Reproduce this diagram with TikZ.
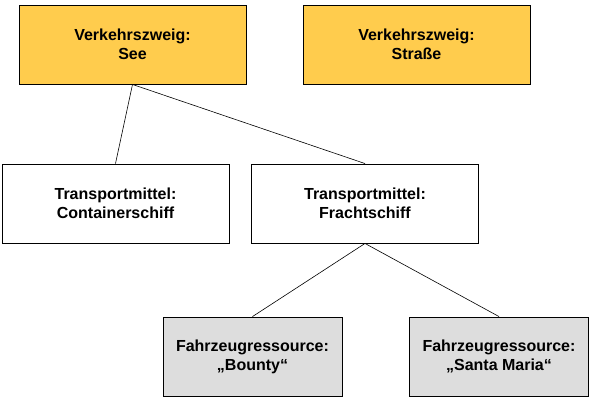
\documentclass[tikz,border=0pt]{standalone}
\usepackage{fontspec}
\setmainfont{Liberation Sans}

\tikzset{
  box/.style={draw, line width=0.9pt, minimum width=227pt, minimum height=79pt,
    align=center, inner sep=0pt, font=\fontsize{16}{19}\selectfont\bfseries},
  zweig/.style={box, fill=zweigfill},
  ressource/.style={box, fill=ressfill, minimum width=179pt}
}
\definecolor{zweigfill}{HTML}{FFCC4D}
\definecolor{ressfill}{HTML}{DDDDDD}

\begin{document}
\begin{tikzpicture}[x=1pt, y=1pt]

\useasboundingbox (0,0) rectangle (595,-405);

% The Verkehrszweige
\node[zweig] (see) at (132.5,-44.5) {Verkehrszweig:\\See};
\node[zweig] (strasse) at (416.5,-44.5) {Verkehrszweig:\\Straße};

% The Transportmittel
\node[box] (container) at (115.5,-203.5) {Transportmittel:\\Containerschiff};
\node[box] (fracht) at (365,-203.5) {Transportmittel:\\Frachtschiff};

% The Fahrzeugressourcen
\node[ressource] (bounty) at (252.5,-356.5) {Fahrzeugressource:\\„Bounty“};
\node[ressource] (santamaria) at (499,-356.5) {Fahrzeugressource:\\„Santa Maria“};

% Lines
\draw[line width=0.6pt] (see.south) -- (container.north);
\draw[line width=0.6pt] (see.south) -- (fracht.north);
\draw[line width=0.6pt] (fracht.south) -- (bounty.north);
\draw[line width=0.6pt] (fracht.south) -- (santamaria.north);

\end{tikzpicture}
\end{document}
